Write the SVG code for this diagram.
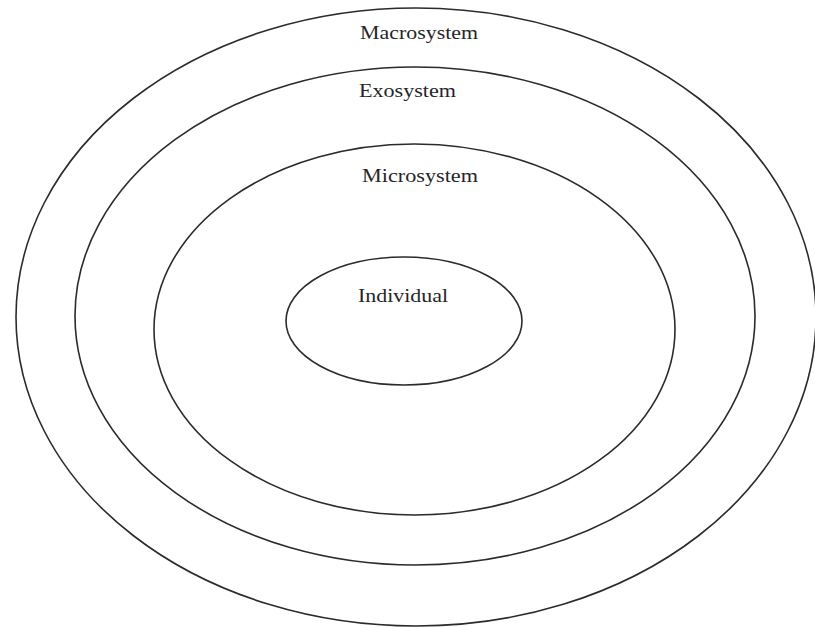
<svg xmlns="http://www.w3.org/2000/svg" width="815" height="627" viewBox="0 0 815 627">
<style>
.ring{fill:none;stroke:#2b2b2b;stroke-width:1.6}
.lbl{font-family:"Liberation Serif","Times New Roman",serif;font-size:19px;fill:#262626;text-anchor:start}
</style>
<rect width="815" height="627" fill="#ffffff"/>
<g id="macrosystem">
<ellipse class="ring" cx="416" cy="317" rx="400" ry="309"/>
<text class="lbl" x="360" y="39" textLength="118" lengthAdjust="spacingAndGlyphs">Macrosystem</text>
</g>
<g id="exosystem">
<ellipse class="ring" cx="415" cy="316" rx="340" ry="249"/>
<text class="lbl" x="359" y="97" textLength="97" lengthAdjust="spacingAndGlyphs">Exosystem</text>
</g>
<g id="microsystem">
<ellipse class="ring" cx="414.5" cy="329.5" rx="260.5" ry="185.5"/>
<text class="lbl" x="362" y="182" textLength="116" lengthAdjust="spacingAndGlyphs">Microsystem</text>
</g>
<g id="individual">
<ellipse class="ring" cx="404" cy="321" rx="118" ry="64"/>
<text class="lbl" x="358" y="302" textLength="90" lengthAdjust="spacingAndGlyphs">Individual</text>
</g>
<g id="connectors"></g>
</svg>
